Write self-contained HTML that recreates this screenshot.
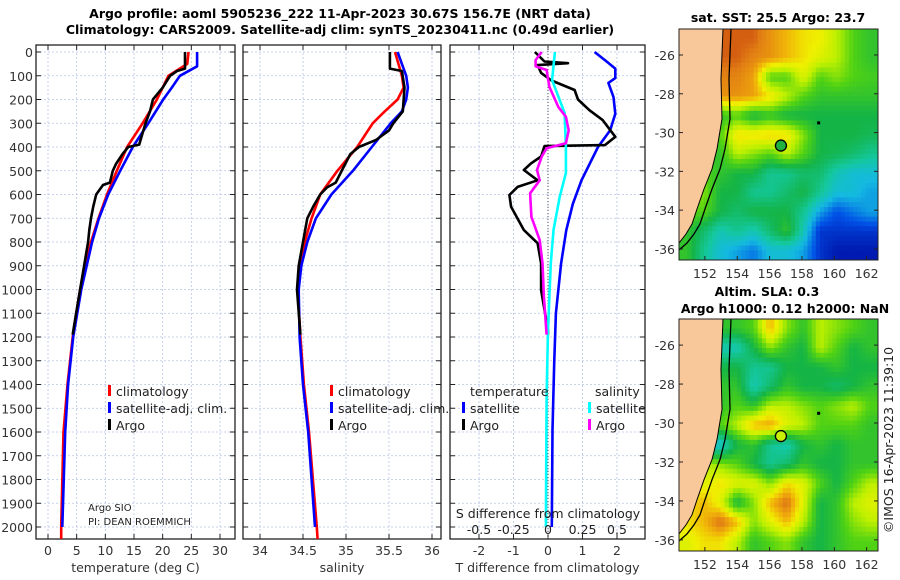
<!DOCTYPE html>
<html><head><meta charset="utf-8"><style>
body{margin:0;background:#fff;}
svg{display:block;font-family:"DejaVu Sans","Liberation Sans",sans-serif;}
</style></head><body>
<svg id="c" width="900" height="580" viewBox="0 0 900 580" xmlns="http://www.w3.org/2000/svg">
<text x="340" y="18" text-anchor="middle" font-size="12.5" font-weight="bold">Argo profile: aoml 5905236_222 11-Apr-2023 30.67S 156.7E (NRT data)</text>
<text x="340" y="34" text-anchor="middle" font-size="12.5" font-weight="bold">Climatology: CARS2009. Satellite-adj clim: synTS_20230411.nc (0.49d earlier)</text>
<text x="778" y="22" text-anchor="middle" font-size="12.5" font-weight="bold">sat. SST: 25.5 Argo: 23.7</text>
<text x="767" y="296" text-anchor="middle" font-size="12.5" font-weight="bold">Altim. SLA: 0.3</text>
<text x="785" y="313" text-anchor="middle" font-size="12.5" font-weight="bold">Argo h1000: 0.12 h2000: NaN</text>
<text transform="translate(893,440) rotate(-90)" text-anchor="middle" font-size="12.5" fill="#222">©IMOS 16-Apr-2023 11:39:10</text>
<g id="g"></g>
</svg>
<script>
// ---- data ----
const depths=[0,100,200,300,400,500,600,700,800,900,1000,1100,1200,1300,1400,1500,1600,1700,1800,1900,2000];
const tTicks=[0,5,10,15,20,25,30];
const sTicks=[34,34.5,35,35.5,36];
const dTicks=[-2,-1,0,1,2];
const sDiffTicks=[-0.5,-0.25,0,0.25,0.5];
const climT=[[0,24.5],[50,24.3],[100,21],[150,20],[200,19],[300,16.5],[400,13.8],[500,12],[600,10.3],[700,8.8],[800,7.5],[900,6.6],[1000,5.6],[1200,4.3],[1400,3.4],[1600,2.7],[2000,2.3],[2050,2.3]];
const satT=[[0,26],[60,26],[100,23],[150,21.6],[200,20.1],[300,17.5],[400,14.8],[500,12.6],[600,10.5],[700,8.9],[800,7.7],[1000,5.8],[1200,4.4],[1400,3.5],[1600,3],[2000,2.5]];
const argoT=[[0,23.9],[70,23.9],[80,22.5],[100,21.3],[150,20],[200,18.3],[250,17.8],[300,17],[350,16.4],[390,15.9],[400,14],[430,13],[470,11.9],[500,11.3],[550,10.8],[560,9.6],[600,8.4],[650,7.9],[700,7.5],[750,7.2],[800,7],[900,6.3],[1000,5.6],[1100,4.9],[1190,4.3]];
const climS=[[0,35.57],[100,35.65],[150,35.67],[200,35.6],[250,35.45],[300,35.31],[400,35.13],[500,34.9],[600,34.7],[700,34.6],[800,34.52],[900,34.47],[1000,34.44],[1200,34.47],[1400,34.51],[1600,34.57],[2000,34.66],[2050,34.67]];
const satS=[[0,35.6],[50,35.65],[100,35.7],[150,35.72],[200,35.7],[250,35.65],[300,35.52],[400,35.3],[500,35.08],[600,34.83],[700,34.65],[800,34.55],[900,34.48],[1000,34.45],[1200,34.46],[1400,34.5],[1600,34.56],[2000,34.64]];
const argoS=[[0,35.51],[70,35.51],[80,35.65],[150,35.68],[250,35.66],[300,35.55],[330,35.5],[370,35.35],[400,35.15],[430,35.05],[500,34.95],[550,34.88],[570,34.78],[600,34.7],[650,34.62],[700,34.55],[800,34.5],[900,34.45],[1000,34.43],[1190,34.47]];
const dTsat=[[0,1.35],[40,1.7],[70,1.95],[110,1.95],[130,1.75],[190,1.9],[260,1.95],[330,1.8],[400,1.45],[540,0.97],[640,0.72],[750,0.53],[890,0.38],[1100,0.23],[1310,0.18],[1590,0.13],[2000,0.11]];
const dTargo=[[0,-0.38],[40,-0.1],[47,0.58],[55,-0.3],[88,-0.2],[120,0.1],[160,0.77],[200,0.87],[245,1.2],[286,1.58],[357,1.95],[392,1.65],[396,-0.1],[440,-0.2],[470,-0.5],[497,-0.7],[540,-0.3],[568,-0.88],[602,-1.12],[652,-1.07],[750,-0.7],[805,-0.3],[890,-0.2],[1002,-0.2],[1086,-0.1],[1170,0],[1190,0]];
const dSsat=[[0,0.05],[118,0.03],[257,0.12],[400,0.13],[510,0.13],[610,0.085],[750,0.04],[890,0.02],[1170,0],[1452,-0.01],[2000,-0.015]];
const dSargo=[[0,-0.046],[34,-0.09],[60,-0.09],[76,-0.01],[147,0.01],[232,0.075],[273,0.13],[330,0.15],[384,0.13],[405,-0.01],[440,-0.045],[497,-0.08],[540,-0.06],[595,-0.13],[694,-0.12],[792,-0.06],[890,-0.04],[1030,-0.03],[1190,-0.01]];
const lonTicks=[152,154,156,158,160,162];
const latTicks=[-26,-28,-30,-32,-34,-36];
const sstGrid=[
[.95,.95,.95,.95,.95,.9,.85,.8,.78,.7,.6,.55],
[.95,.95,.95,.95,.92,.9,.85,.8,.75,.7,.6,.55],
[.92,.92,.92,.92,.88,.6,.6,.75,.6,.65,.6,.58],
[.9,.9,.9,.9,.88,.8,.7,.6,.55,.55,.55,.55],
[.55,.55,.55,.6,.5,.55,.5,.5,.5,.5,.5,.5],
[.6,.6,.6,.8,.8,.82,.8,.65,.5,.5,.5,.48],
[.55,.55,.55,.7,.65,.6,.7,.6,.5,.48,.45,.4],
[.6,.6,.55,.5,.5,.4,.4,.45,.45,.35,.3,.3],
[.65,.65,.5,.5,.4,.4,.45,.5,.4,.3,.3,.25],
[.6,.6,.5,.45,.5,.5,.5,.4,.25,.15,.2,.25],
[.55,.45,.35,.4,.35,.45,.55,.35,.1,.1,.1,.1],
[.55,.4,.3,.25,.2,.3,.3,.25,.1,.05,.05,.05]];
const slaGrid=[
[.55,.55,.55,.55,.6,.85,.65,.55,.7,.65,.6,.55],
[.35,.35,.35,.35,.5,.65,.55,.5,.7,.6,.5,.55],
[.5,.5,.5,.5,.4,.4,.5,.5,.5,.55,.5,.5],
[.55,.55,.55,.55,.35,.45,.55,.5,.5,.45,.5,.55],
[.55,.55,.55,.6,.55,.7,.7,.65,.6,.65,.7,.6],
[.6,.6,.6,.7,.85,.88,.75,.7,.6,.6,.6,.55],
[.3,.3,.3,.5,.55,.4,.35,.5,.55,.5,.55,.55],
[.7,.7,.65,.6,.5,.4,.45,.55,.5,.5,.55,.55],
[.75,.75,.8,.75,.75,.65,.8,.75,.6,.5,.6,.7],
[.8,.85,.75,.5,.65,.85,.95,.75,.5,.55,.7,.75],
[.8,.85,.95,.85,.65,.75,.85,.7,.5,.55,.65,.7],
[.75,.8,.8,.7,.55,.6,.65,.55,.5,.55,.6,.6]];
// ---- drawing ----
const NS='http://www.w3.org/2000/svg', G=document.getElementById('g');
function el(t,a,p){const e=document.createElementNS(NS,t);for(const k in a)e.setAttribute(k,a[k]);(p||G).appendChild(e);return e;}
const Y0=52, PX100=23.75, yD=d=>Y0+d/100*PX100;
const P1={l:36,r:235,x:v=>48+v*5.733}, P2={l:243,r:441,x:v=>260+(v-34)*86}, P3={l:450,r:645,x:v=>548+v*34.5}, xS=v=>548+v*138;
const TOP=45,BOT=539,FS=12.5;
function panel(P,ticks,name,title,showY){
  const g=el('g',{});
  
  
  el('rect',{x:P.l,y:TOP,width:P.r-P.l,height:BOT-TOP,fill:'#fff'},g);
  ticks.forEach(t=>{const x=P.x(t);el('line',{x1:x,x2:x,y1:TOP,y2:BOT,stroke:'#b8c4e8','stroke-dasharray':'2,2','stroke-width':0.8},g);
    el('line',{x1:x,x2:x,y1:BOT,y2:BOT-5,stroke:'#222'},g);el('line',{x1:x,x2:x,y1:TOP,y2:TOP+5,stroke:'#222'},g);
    const tx=el('text',{x:x,y:555,'text-anchor':'middle','font-size':FS,fill:'#333'},g);tx.textContent=t;});
  depths.forEach(d=>{const y=yD(d);el('line',{x1:P.l,x2:P.r,y1:y,y2:y,stroke:'#b8c4e8','stroke-dasharray':'2,2','stroke-width':0.8},g);
    el('line',{x1:P.l,x2:P.l+5,y1:y,y2:y,stroke:'#222'},g);el('line',{x1:P.r,x2:P.r-5,y1:y,y2:y,stroke:'#222'},g);
    if(showY){const tx=el('text',{x:33,y:y+5,'text-anchor':'end','font-size':FS,fill:'#333'},g);tx.textContent=d;}});
  el('rect',{x:P.l,y:TOP,width:P.r-P.l,height:BOT-TOP,fill:'none',stroke:'#222','stroke-width':1.3},g);
  const tt=el('text',{x:(P.l+P.r)/2,y:572,'text-anchor':'middle','font-size':FS,fill:'#333'},g);tt.textContent=title;
  return g;
}
function line(pts,fx,col,name,g,w){const p=el('polyline',{points:pts.map(q=>fx(q[1]).toFixed(1)+','+yD(q[0]).toFixed(1)).join(' '),fill:'none',stroke:col,'stroke-width':w||2.6,'stroke-linejoin':'round'},g);
  
  }
const g1=panel(P1,tTicks,'temperature-panel','temperature (deg C)',true);
line(climT,P1.x,'#f00','climatology-temp-line',g1);line(satT,P1.x,'#00f','satellite-temp-line',g1);line(argoT,P1.x,'#000','argo-temp-line',g1);
const g2=panel(P2,sTicks,'salinity-panel','salinity',false);
line(climS,P2.x,'#f00','climatology-sal-line',g2);line(satS,P2.x,'#00f','satellite-sal-line',g2);line(argoS,P2.x,'#000','argo-sal-line',g2);
const g3=panel(P3,dTicks,'difference-panel','T difference from climatology',false);
el('line',{x1:548,x2:548,y1:TOP,y2:BOT,stroke:'#555','stroke-dasharray':'1,2'},g3);
line(dTsat,P3.x,'#00f','satellite-temp-diff-line',g3);line(dTargo,P3.x,'#000','argo-temp-diff-line',g3);
line(dSsat,xS,'#0ff','satellite-sal-diff-line',g3);line(dSargo,xS,'#f0f','argo-sal-diff-line',g3);
function txt(x,y,s,sz,name,anchor,g){const t=el('text',{x:x,y:y,'font-size':sz,fill:'#222','text-anchor':anchor||'start'},g);t.textContent=s;
  
  return t;}
function leg(x,y,col,s,name,g){el('rect',{x:x,y:y-11,width:3,height:11,fill:col},g);txt(x+8,y,s,FS,name,'start',g);}
[[108,g1],[330,g2]].forEach(([x,g])=>{leg(x,396,'#f00','climatology','legend-climatology',g);leg(x,413,'#00f','satellite-adj. clim.','legend-satellite',g);leg(x,430,'#000','Argo','legend-argo',g);});
txt(470,396,'temperature',FS,'legend-temperature-header','start',g3);
leg(462,413,'#00f','satellite','legend-temp-satellite',g3);leg(462,430,'#000','Argo','legend-temp-argo',g3);
txt(595,396,'salinity',FS,'legend-salinity-header','start',g3);
leg(588,413,'#0ff','satellite','legend-sal-satellite',g3);leg(588,430,'#f0f','Argo','legend-sal-argo',g3);
txt(88,511,'Argo SIO',10,'argo-source-label','start',g1);txt(88,525,'PI: DEAN ROEMMICH',10,'pi-label','start',g1);
txt(548,518,'S difference from climatology',FS,'s-diff-axis-title','middle',g3);
sDiffTicks.forEach(v=>{txt(xS(v),534,String(v),FS,'s-diff-tick','middle',g3);});
// ---- maps ----
const stops=[[0,[0,0,150]],[.15,[0,80,230]],[.28,[20,185,225]],[.38,[20,200,160]],[.5,[20,180,70]],[.6,[80,210,20]],[.7,[190,240,0]],[.78,[240,240,0]],[.86,[240,175,10]],[.93,[225,125,20]],[1,[180,20,10]]];
function cmap(v){for(let i=1;i<stops.length;i++)if(v<=stops[i][0]){const a=stops[i-1],b=stops[i],f=(v-a[0])/(b[0]-a[0]);return 'rgb('+a[1].map((c,k)=>Math.round(c+f*(b[1][k]-c))).join(',')+')';}return 'rgb(180,20,10)';}
const MX0=679,MX1=878,LON0=150.4,LON1=162.7;
const mx=lon=>MX0+(lon-LON0)/(LON1-LON0)*(MX1-MX0);
function sample(grid,u,v){const nr=grid.length,nc=grid[0].length;
  u=Math.max(0,Math.min(nc-1,u));v=Math.max(0,Math.min(nr-1,v));
  const c0=Math.floor(u),r0=Math.floor(v),c1=Math.min(nc-1,c0+1),r1=Math.min(nr-1,r0+1),fu=u-c0,fv=v-r0;
  return (grid[r0][c0]*(1-fu)+grid[r0][c1]*fu)*(1-fv)+(grid[r1][c0]*(1-fu)+grid[r1][c1]*fu)*fv;}
function map(top,bot,grid,name){
  const my=lat=>top+(-24.66-lat)/(36.57-24.66)*(bot-top);
  const g=el('g',{});
  
  
  const K=4,nr=grid.length*K,nc=grid[0].length*K,cw=(MX1-MX0)/nc,ch=(bot-top)/nr;
  for(let r=0;r<nr;r++)for(let c=0;c<nc;c++){
    const v=sample(grid,(c+0.5)/K-0.5,(r+0.5)/K-0.5);
    const cell=el('rect',{x:(MX0+c*cw).toFixed(2),y:(top+r*ch).toFixed(2),width:(cw+0.4).toFixed(2),height:(ch+0.4).toFixed(2),fill:cmap(v)},g);
    
    }
  const h=bot-top,s=h/231;
  const coast=[[723,0],[721,50],[722,90],[717,120],[712,140],[704,160],[697,180],[692,195],[686,205],[679,214]];
  el('polygon',{points:[[MX0,0]].concat(coast).map(p=>p[0]+','+(top+p[1]*s)).join(' '),fill:'#f9c89a',stroke:'#000','stroke-width':1},g);
  el('polyline',{points:coast.map(p=>(p[0]+8)+','+(top+p[1]*s)).join(' ')+' '+(679)+','+(top+231*s-10),fill:'none',stroke:'#000','stroke-width':1.3},g);
  el('circle',{cx:mx(156.7),cy:my(-30.67),r:5.5,fill:name==='sst-map'?'#20b040':'#c8f000',stroke:'#000','stroke-width':1.3},g);
  el('rect',{x:mx(159)-1,y:my(-29.5)-1.5,width:3,height:3,fill:'#000'},g);
  el('rect',{x:MX0,y:top,width:MX1-MX0,height:h,fill:'none',stroke:'#222'},g);
  lonTicks.forEach(l=>{const x=mx(l);el('line',{x1:x,x2:x,y1:bot,y2:bot-4,stroke:'#222'},g);
    const t=el('text',{x:x,y:bot+18,'text-anchor':'middle','font-size':FS,fill:'#333'},g);t.textContent=l;});
  latTicks.forEach(l=>{const y=my(l);el('line',{x1:MX0,x2:MX0+4,y1:y,y2:y,stroke:'#222'},g);el('line',{x1:MX1,x2:MX1-4,y1:y,y2:y,stroke:'#222'},g);
    const t=el('text',{x:675,y:y+5,'text-anchor':'end','font-size':FS,fill:'#333'},g);t.textContent=l;});
}
map(29,260,sstGrid,'sst-map');
map(319,551,slaGrid,'sla-map');
</script>
</body></html>
